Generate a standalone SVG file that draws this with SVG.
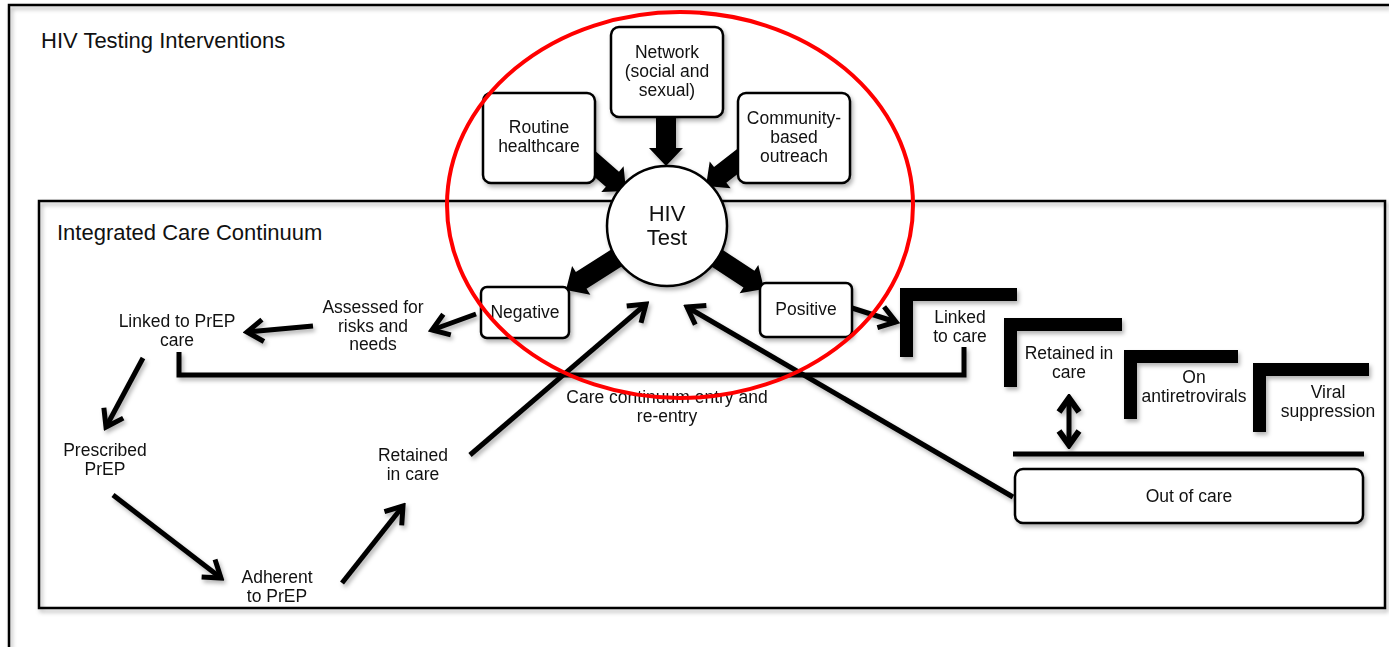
<svg xmlns="http://www.w3.org/2000/svg" width="1389" height="647" viewBox="0 0 1389 647">
<defs>
<style>
text{font-family:"Liberation Sans",Arial,sans-serif;fill:#111;text-anchor:middle;font-size:17.5px}
.title{font-size:22px;text-anchor:start}
.big{font-size:22px}
.box{fill:#fff;stroke:#000;stroke-width:2.5}
.frame{fill:none;stroke:#000;stroke-width:2.5}
.ln{fill:none;stroke:#000;stroke-width:5}
.arr{fill:none;stroke:#000;stroke-width:5;marker-end:url(#chev)}
.blk{fill:#000}
.step{fill:#000}
.sh{filter:url(#shadow)}
</style>
<filter id="shadow" x="-10%" y="-10%" width="130%" height="140%">
<feDropShadow dx="2" dy="3" stdDeviation="2" flood-color="#000" flood-opacity="0.3"/>
</filter>
<marker id="chev" markerUnits="userSpaceOnUse" viewBox="-22 -14 26 28" refX="0" refY="0" markerWidth="26" markerHeight="28" orient="auto">
<path d="M-16,-11 L0,0 L-16,11" fill="none" stroke="#000" stroke-width="5" stroke-linejoin="miter"/>
</marker>
<marker id="chevS" markerUnits="userSpaceOnUse" viewBox="-22 -14 26 28" refX="0" refY="0" markerWidth="26" markerHeight="28" orient="auto-start-reverse">
<path d="M-14,-10 L0,0 L-14,10" fill="none" stroke="#000" stroke-width="6" stroke-linejoin="miter"/>
</marker>
</defs>
<rect width="1389" height="647" fill="#fff"/>

<g id="frames" class="sh">
<path class="frame" d="M9,647 V5 H1389"/>
<rect class="frame" x="39" y="201" width="1346" height="407"/>
</g>
<text class="title" x="41" y="48">HIV Testing Interventions</text>
<text class="title" x="57" y="240">Integrated Care Continuum</text>

<g id="connectors" class="sh">
<path class="blk" d="M0,0 L-18,-17 L-18,-10 L-60,-10 L-60,10 L-18,10 L-18,17 Z" transform="translate(666,166) rotate(90)"/>
<path class="blk" d="M0,0 L-18,-17 L-18,-10 L-60,-10 L-60,10 L-18,10 L-18,17 Z" transform="translate(626,191) rotate(41)"/>
<path class="blk" d="M0,0 L-18,-17 L-18,-10 L-60,-10 L-60,10 L-18,10 L-18,17 Z" transform="translate(706,186) rotate(142)"/>
<path class="blk" d="M0,0 L-18,-17 L-18,-10 L-80,-10 L-80,10 L-18,10 L-18,17 Z" transform="translate(566,290) rotate(147.6)"/>
<path class="blk" d="M0,0 L-18,-17 L-18,-10 L-80,-10 L-80,10 L-18,10 L-18,17 Z" transform="translate(764,289) rotate(33.3)"/>
<line class="arr" x1="476" y1="314" x2="432" y2="330"/>
<line class="arr" x1="313" y1="326" x2="247" y2="332"/>
<line class="arr" x1="143" y1="358" x2="106" y2="427"/>
<line class="arr" x1="113" y1="495" x2="221" y2="578"/>
<line class="arr" x1="342" y1="583" x2="403" y2="506"/>
<line class="arr" x1="470" y1="455" x2="646" y2="304"/>
<line class="arr" x1="1013" y1="497" x2="687" y2="307"/>
<line class="arr" x1="852" y1="308" x2="896" y2="322"/>
<path class="ln" d="M179,352 V375 H964 V347"/>
<line class="ln" x1="1013" y1="454" x2="1364" y2="454"/>
<line x1="1069" y1="398" x2="1069" y2="445" stroke="#000" stroke-width="5" marker-start="url(#chevS)" marker-end="url(#chevS)"/>
</g>

<g id="routine">
<rect class="box sh" x="483" y="93" width="112" height="90" rx="8"/>
<text x="539" y="133">Routine</text>
<text x="539" y="152">healthcare</text>
</g>
<g id="network">
<rect class="box sh" x="611" y="27" width="112" height="90" rx="8"/>
<text x="667" y="58">Network</text>
<text x="667" y="77">(social and</text>
<text x="667" y="96">sexual)</text>
</g>
<g id="community">
<rect class="box sh" x="738" y="93" width="112" height="90" rx="8"/>
<text x="794" y="124">Community-</text>
<text x="794" y="143">based</text>
<text x="794" y="162">outreach</text>
</g>
<g id="hivtest">
<circle class="box sh" cx="667" cy="226" r="60"/>
<text class="big" x="667" y="221">HIV</text>
<text class="big" x="667" y="245">Test</text>
</g>
<g id="negative">
<rect class="box sh" x="481" y="287" width="88" height="51" rx="6"/>
<text x="525" y="318">Negative</text>
</g>
<g id="positive">
<rect class="box sh" x="760" y="283" width="92" height="54" rx="6"/>
<text x="806" y="315">Positive</text>
</g>
<g id="assessed">
<text x="373" y="313">Assessed for</text>
<text x="373" y="331.5">risks and</text>
<text x="373" y="350">needs</text>
</g>
<g id="linkedprep">
<text x="177" y="327">Linked to PrEP</text>
<text x="177" y="345.5">care</text>
</g>
<g id="prescribed">
<text x="105" y="456">Prescribed</text>
<text x="105" y="474.5">PrEP</text>
</g>
<g id="adherent">
<text x="277" y="583">Adherent</text>
<text x="277" y="601.5">to PrEP</text>
</g>
<g id="retainedprep">
<text x="413" y="461">Retained</text>
<text x="413" y="479.5">in care</text>
</g>
<g id="entrylabel">
<text x="667" y="403">Care continuum entry and</text>
<text x="667" y="421.5">re-entry</text>
</g>
<g id="linkedcare">
<path class="step sh" d="M900,288 H1017 V301 H913 V357 H900 Z"/>
<text x="960" y="323">Linked</text>
<text x="960" y="341.5">to care</text>
</g>
<g id="retainedcare">
<path class="step sh" d="M1004,318 H1122 V331 H1017 V387 H1004 Z"/>
<text x="1069" y="359">Retained in</text>
<text x="1069" y="377.5">care</text>
</g>
<g id="onarv">
<path class="step sh" d="M1124,350 H1238 V363 H1137 V419 H1124 Z"/>
<text x="1194" y="383">On</text>
<text x="1194" y="401.5">antiretrovirals</text>
</g>
<g id="viral">
<path class="step sh" d="M1253,363 H1369 V376 H1266 V432 H1253 Z"/>
<text x="1328" y="398">Viral</text>
<text x="1328" y="416.5">suppression</text>
</g>
<g id="outofcare">
<rect class="box sh" x="1015" y="469" width="348" height="54" rx="8"/>
<text x="1189" y="502">Out of care</text>
</g>

<ellipse id="highlight" cx="680" cy="205" rx="233" ry="193" fill="none" stroke="#f00" stroke-width="4"/>
</svg>
